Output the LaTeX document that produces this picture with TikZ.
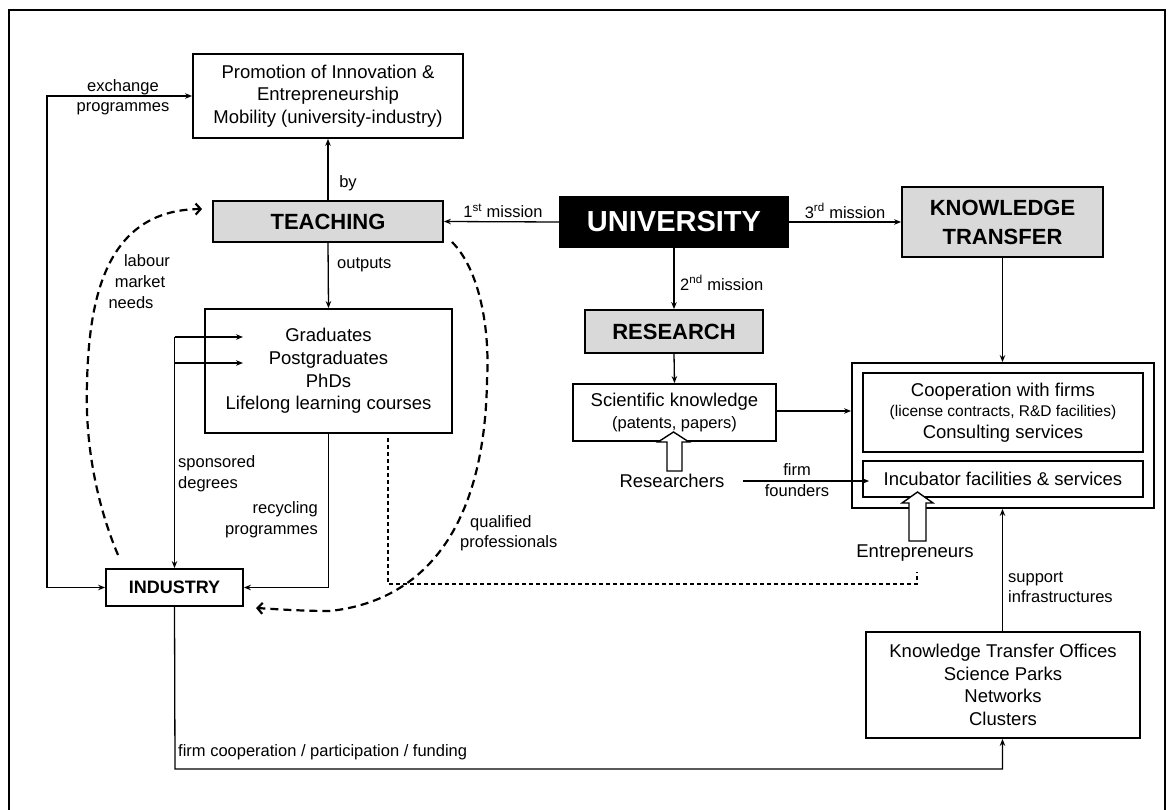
\documentclass[tikz,border=0pt]{standalone}
\usepackage{fontspec}
\setmainfont{Liberation Sans}
\usetikzlibrary{arrows.meta}
\newcommand\boxfont{\fontsize{18.5}{22.7}\selectfont}
\newcommand\lblfont{\fontsize{16.5}{20.5}\selectfont}
\begin{document}
\begin{tikzpicture}[x=1pt,y=-1pt,
  box/.style={draw, line width=1.8pt, inner sep=0pt, align=center, font=\boxfont},
  graybox/.style={box, fill=black!15, font=\bfseries\fontsize{22}{29}\selectfont},
  arr/.style={-{Stealth[length=7pt,width=5.5pt]}, line width=1.3pt},
  lbl/.style={font=\lblfont, inner sep=0pt},
  plain/.style={font=\boxfont, inner sep=0pt},
  dashcurve/.style={line width=2.2pt, dash pattern=on 8pt off 5pt, -{Straight Barb[length=5pt,width=11pt]}},
  dotline/.style={line width=1.2pt, dash pattern=on 4pt off 3pt},
  hollow/.style={line width=1.4pt, fill=white}
]
\useasboundingbox (0,0) rectangle (1174,810);
% frame
\draw[line width=1.8pt] (9,815) -- (9,10) -- (1165,10) -- (1165,815);

% nodes
\node[box, minimum width=270pt, minimum height=84pt] (promo) at (328,96)
  {Promotion of Innovation \&\\ Entrepreneurship\\ Mobility (university-industry)};
\node[graybox, minimum width=230pt, minimum height=41pt] (teach) at (328,221.5) {TEACHING};
\node[draw=black, line width=1.8pt, fill=black, text=white, inner sep=0pt,
  minimum width=228pt, minimum height=50pt, font=\bfseries\fontsize{29}{32}\selectfont] (univ) at (674,222) {UNIVERSITY};
\node[graybox, minimum width=201pt, minimum height=70pt] (kt) at (1002.5,222) {KNOWLEDGE\\ TRANSFER};
\node[graybox, minimum width=178pt, minimum height=43pt] (research) at (674,331.5) {RESEARCH};
\node[box, minimum width=203pt, minimum height=57pt] (sci) at (674.5,412.5)
  {Scientific knowledge\\[-1pt] {\fontsize{16.5}{20}\selectfont (patents, papers)}};
\node[box, minimum width=247pt, minimum height=124pt] (grad) at (328.5,371)
  {Graduates\\ Postgraduates\\ PhDs\\ Lifelong learning courses};
\node[draw, line width=1.8pt, minimum width=302pt, minimum height=145pt, inner sep=0pt] (outer) at (1003,435.5) {};
\node[box, minimum width=280pt, minimum height=79pt] (coop) at (1003,412.5)
  {Cooperation with firms\\[-2pt] {\fontsize{15.5}{19}\selectfont (license contracts, R\&D facilities)}\\[-1pt] Consulting services};
\node[box, minimum width=280pt, minimum height=36pt] (incub) at (1003,479) {Incubator facilities \& services};
\node[box, minimum width=137pt, minimum height=37pt, font=\bfseries\fontsize{18}{20}\selectfont] (ind) at (174.5,587.5) {INDUSTRY};
\node[box, minimum width=274pt, minimum height=106pt] (kto) at (1003,685)
  {Knowledge Transfer Offices\\ Science Parks\\ Networks\\ Clusters};
\node[plain] (res) at (672,481) {Researchers};
\node[plain] (entr) at (915,553) {Entrepreneurs};

% connectors
\draw[arr] (teach.north) -- (promo.south);
\node[lbl] (by) at (348,183) {by};
\draw[arr] (univ.west) -- (teach.east);
\node[lbl] (m1) at (503,211) {1\textsuperscript{st} mission};
\draw[arr] (univ.east) -- (kt.west);
\node[lbl] (m3) at (845,211) {3\textsuperscript{rd} mission};
\draw[arr] (univ.south) -- (research.north);
\node[lbl, anchor=west] (m2) at (680,283) {2\textsuperscript{nd} mission};
\draw[arr] (research.south) -- (sci.north);
\draw[arr] ([yshift=1.5pt]sci.east) -- ([yshift=1.5pt]sci.east -| outer.west);
\draw[arr] (kt.south) -- (kt.south |- outer.north);
\draw[arr] ([xshift=18pt]res.east) -- ([xshift=18pt]res.east -| outer.west);
\node[lbl] (firm) at (797,470) {firm};
\node[lbl] (founders) at (797,491) {founders};
\draw[arr] (kto.north -| kt.south) -- (kt.south |- outer.south);
\node[lbl, anchor=west, align=left] (supp) at (1008,587) {support\\ infrastructures};
\coordinate (bl) at (175,769);
\draw[arr] (ind.south) -- (bl) -| (kto.south -| kt.south);
\node[lbl, anchor=west] (fc) at (178,752) {firm cooperation / participation / funding};
\draw[arr] (teach.south) -- (grad.north);
\node[lbl, anchor=west] (out) at (337,265) {outputs};
\draw[{Stealth[length=7pt,width=5.5pt]}-{Stealth[length=7pt,width=5.5pt]}, line width=1.3pt]
  (promo.west) -- ++(-145,0) |- (ind.west);
\node[lbl, align=center] (exch) at (123,97) {exchange\\ programmes};
\draw[arr] (grad.south) |- (ind.east);
\node[lbl, anchor=east, align=right] (recy) at (318,519.5) {recycling\\ programmes};
\coordinate (g1) at (243,337);
\coordinate (g2) at (243,363);
\draw[arr] (ind.north |- g1) -- (ind.north);
\draw[arr] (ind.north |- g1) -- (g1);
\draw[arr] (ind.north |- g2) -- (g2);
\node[lbl, anchor=west, align=left] (spons) at (178,473.5) {sponsored\\ degrees};

% dotted line
\coordinate (d1) at (388,438);
\coordinate (d2) at (917,572);
\draw[dotline] (d1) -- (388,584) -- (917,584) -- (d2);

% dashed curves
\coordinate (lm0) at (118,555);
\coordinate (lm1) at (87,383);
\draw[dashcurve] (lm0) .. controls (95,500) and (85,440) .. (lm1)
  .. controls (89,300) and (105,210) .. ([xshift=-10pt]teach.west |- 0,209);
\node[lbl] (lab1) at (147,261) {labour};
\node[lbl] (lab2) at (140,282) {market};
\node[lbl] (lab3) at (131,303) {needs};

\coordinate (qp0) at (452,242);
\coordinate (qp1) at (487,380);
\coordinate (qp2) at (330,611);
\draw[dashcurve] (qp0) .. controls (480,270) and (490,330) .. (qp1)
  .. controls (485,520) and (430,600) .. (qp2)
  .. controls (300,611) and (275,609) .. (256,608);
\node[lbl, anchor=west] (q1) at (470,523) {qualified};
\node[lbl, anchor=west] (q2) at (460,543) {professionals};

% hollow arrows
\draw[hollow] (667,471) -- (667,442) -- (658,442) -- (673.5,432) -- (689,442) -- (682,442) -- (682,471) -- cycle;
\draw[hollow] (909,541) -- (909,503) -- (902,503) -- (917.5,492) -- (933,503) -- (926,503) -- (926,541) -- cycle;
\end{tikzpicture}
\end{document}
